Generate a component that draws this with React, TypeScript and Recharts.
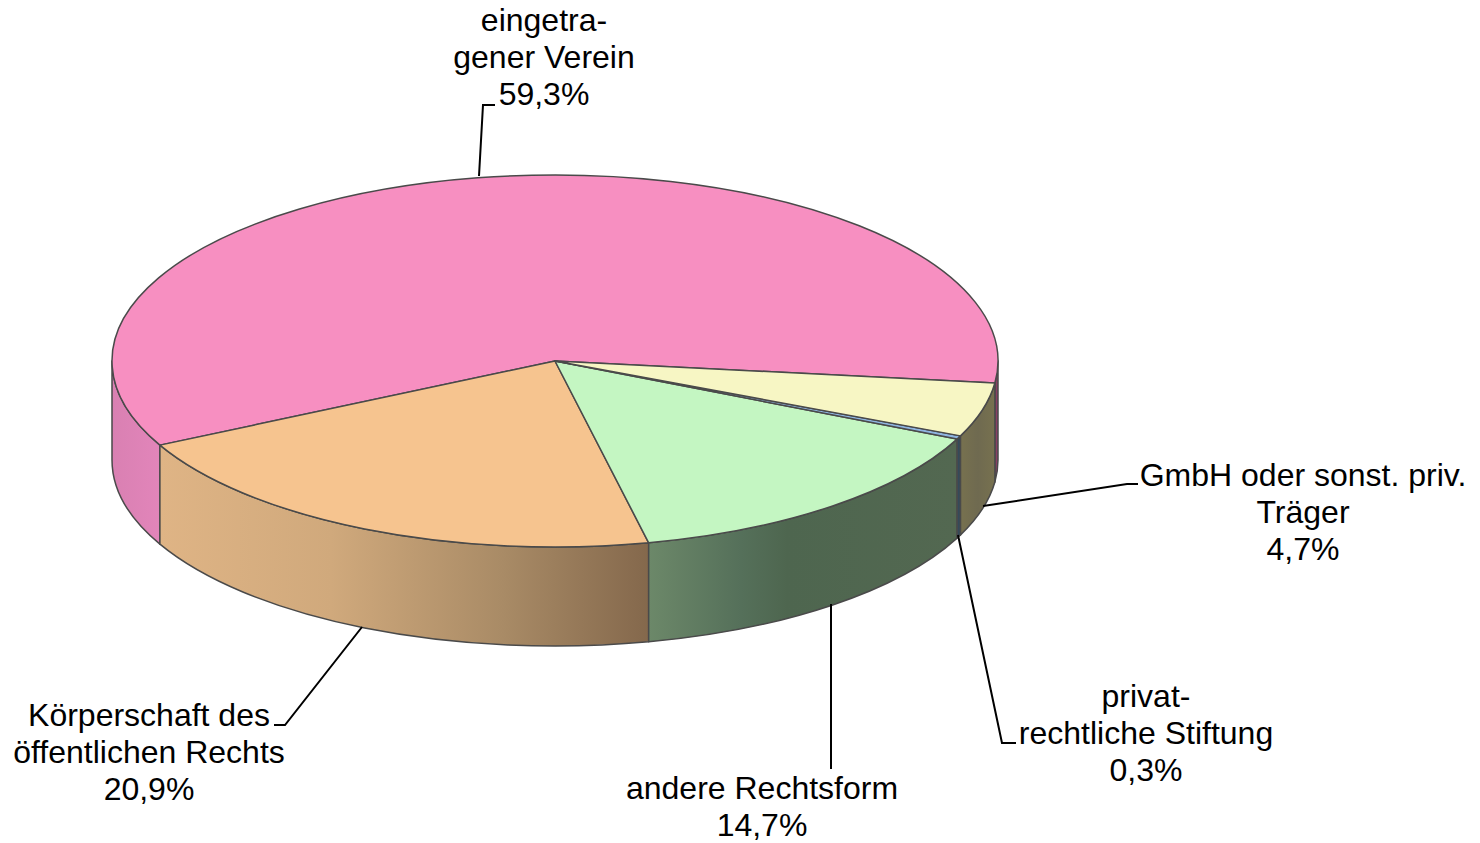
import React from "react";
import { PieChart, Pie, Cell } from "recharts";

const categories = ["eingetragener Verein", "Körperschaft des öffentlichen Rechts", "andere Rechtsform", "privatrechtliche Stiftung", "GmbH oder sonst. priv. Träger"];
const shares = [59.3, 20.9, 14.7, 0.3, 4.7];
const labelLines = [
  ["eingetra-", "gener Verein", "59,3%"],
  ["Körperschaft des", "öffentlichen Rechts", "20,9%"],
  ["andere Rechtsform", "14,7%"],
  ["privat-", "rechtliche Stiftung", "0,3%"],
  ["GmbH oder sonst. priv.", "Träger", "4,7%"],
];
const topColors = ["#F78FC1", "#F6C48F", "#C4F6C2", "#8FB4E0", "#F7F6C4"];
const wallStops: [number, string][][] = [
  [[0, "#D980B2"], [1, "#E285BA"]],
  [[0, "#DFB485"], [0.35, "#D0A97C"], [0.7, "#A98B66"], [1, "#84684C"]],
  [[0, "#6C8869"], [0.3, "#55705A"], [0.45, "#4E664F"], [1, "#536851"]],
  [[0, "#35495A"], [1, "#35495A"]],
  [[0, "#77714F"], [0.5, "#6F6A50"], [1, "#77714F"]],
];

const labelAnchors: { x: number; y: number }[] = [
  { x: 544, y: 31 },
  { x: 149, y: 726 },
  { x: 762, y: 799 },
  { x: 1146, y: 707 },
  { x: 1303, y: 486 },
];
const leaders = [
  "479,176 483,105 495,105",
  "362,627 285,725 274,725",
  "831,604 831,769",
  "958,535 1002,743 1016,743",
  "983,506 1127,484 1138,484",
];

const data = categories.map((name, i) => ({ name, value: shares[i] }));

const W = 1480, H = 843;
const CX = 555, CY = 361, RX = 443, RY = 186, DEPTH = 99;
const LINE_H = 37;
const FONT = '"Liberation Sans", Arial, sans-serif';

const pt = (deg: number, dy = 0) => {
  const r = (deg * Math.PI) / 180;
  return `${(CX + RX * Math.cos(r)).toFixed(2)} ${(CY - RY * Math.sin(r) + dy).toFixed(2)}`;
};

function wallPath(a1: number, a2: number) {
  const large = a2 - a1 > 180 ? 1 : 0;
  return `M ${pt(a1)} A ${RX} ${RY} 0 ${large} 0 ${pt(a2)} L ${pt(a2, DEPTH)} A ${RX} ${RY} 0 ${large} 1 ${pt(a1, DEPTH)} Z`;
}

function Sector3D(props: any) {
  const { startAngle, endAngle, index, fill } = props;
  const a1 = Math.min(startAngle, endAngle);
  const a2 = Math.max(startAngle, endAngle);
  const large = a2 - a1 > 180 ? 1 : 0;
  const walls: [number, number][] = [];
  for (const [lo, hi] of [[-180, 0], [180, 360]]) {
    const s = Math.max(a1, lo);
    const e = Math.min(a2, hi);
    if (e > s) walls.push([s, e]);
  }
  return (
    <g>
      {walls.map(([s, e], k) => (
        <path
          key={k}
          d={wallPath(s, e)}
          fill={e <= 0 ? "#8A3F64" : `url(#wall${index})`}
          stroke="#4a4a4a"
          strokeWidth={1.5}
          strokeLinejoin="round"
        />
      ))}
      <path
        d={`M ${CX} ${CY} L ${pt(a1)} A ${RX} ${RY} 0 ${large} 0 ${pt(a2)} Z`}
        fill={fill}
        stroke="#4a4a4a"
        strokeWidth={1.5}
        strokeLinejoin="round"
      />
    </g>
  );
}

function SliceLabel(props: any) {
  const { index } = props;
  const a = labelAnchors[index];
  return (
    <g>
      <polyline points={leaders[index]} fill="none" stroke="#000" strokeWidth={2} />
      <text x={a.x} y={a.y} textAnchor="middle" fontFamily={FONT} fontSize={32} fill="#000">
        {labelLines[index].map((line, i) => (
          <tspan key={i} x={a.x} y={a.y + i * LINE_H}>{line}</tspan>
        ))}
      </text>
    </g>
  );
}

export default function App() {
  return (
    <div style={{ position: "absolute", left: 0, top: 0, width: W, height: H, background: "#fff" }}>
      <PieChart width={W} height={H} margin={{ top: 0, right: 0, bottom: 0, left: 0 }}>
        <defs>
          {wallStops.map((stops, i) => (
            <linearGradient key={i} id={`wall${i}`} x1="0" y1="0" x2="1" y2="0">
              {stops.map(([o, c], k) => (
                <stop key={k} offset={o} stopColor={c} />
              ))}
            </linearGradient>
          ))}
        </defs>
        <Pie
          data={data}
          dataKey="value"
          nameKey="name"
          cx={CX}
          cy={CY}
          innerRadius={0}
          outerRadius={RX}
          startAngle={-6.8}
          endAngle={353.2}
          paddingAngle={0}
          isAnimationActive={false}
          shape={Sector3D}
          label={SliceLabel}
          labelLine={false}
        >
          {data.map((d, i) => (
            <Cell key={d.name} fill={topColors[i]} />
          ))}
        </Pie>
      </PieChart>
    </div>
  );
}
